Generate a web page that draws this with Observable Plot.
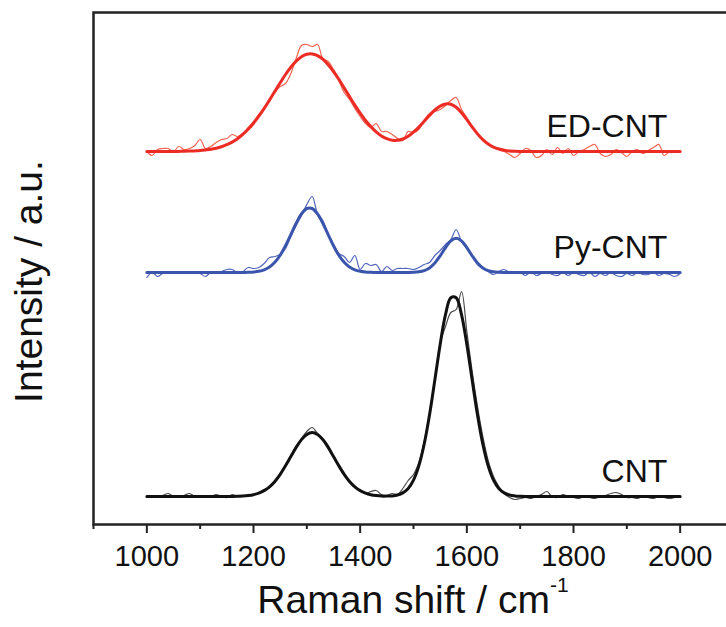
<!DOCTYPE html>
<html>
<head>
<meta charset="utf-8">
<script src="https://cdn.jsdelivr.net/npm/d3@7"></script>
<script src="https://cdn.jsdelivr.net/npm/@observablehq/plot@0.6"></script>
<style>
  html, body { margin: 0; padding: 0; background: white; }
  #chart { width: 726px; height: 627px; overflow: hidden; }
</style>
</head>
<body>
<div id="chart"></div>
<script>
// Raman shift sampling (cm^-1)
const shift = [
  1000,1010,1020,1030,1040,1050,1060,1070,1080,1090,
  1100,1110,1120,1130,1140,1150,1160,1170,1180,1190,
  1200,1210,1220,1230,1240,1250,1260,1270,1280,1290,
  1300,1310,1320,1330,1340,1350,1360,1370,1380,1390,
  1400,1410,1420,1430,1440,1450,1460,1470,1480,1490,
  1500,1510,1520,1530,1540,1550,1560,1570,1580,1590,
  1600,1610,1620,1630,1640,1650,1660,1670,1680,1690,
  1700,1710,1720,1730,1740,1750,1760,1770,1780,1790,
  1800,1810,1820,1830,1840,1850,1860,1870,1880,1890,
  1900,1910,1920,1930,1940,1950,1960,1970,1980,1990,
  2000
];

// Intensities (a.u.) above each spectrum's own baseline
const cntRaw = [
  0,-1,0,1,3,0,-1,1,3,0,
  -1,0,0,2,0,-1,2,0,0,1,
  2,4,7,9,14,21,31,41,50,58,
  65,69,63,58,51,40,30,22,15,10,
  6,3,5,6,2,1,3,2,8,16,
  22,34,55,83,117,153,170,184,187,205,
  165,125,90,60,36,20,10,3,-1,-3,
  -2,-1,-2,0,2,5,0,-1,2,0,
  -1,-2,0,-1,-2,0,1,3,4,2,
  -1,-1,-2,0,-1,-2,0,-1,-2,-1,
  0
];
const cntFit = [
  0,0,0,0,0,0,0,0,0,0,
  0,0,0,0,0,0,0.1,0.2,0.4,0.9,
  1.8,3.4,5.9,9.7,15.1,22.2,30.7,40.0,49.1,56.9,
  62.1,64,62.1,56.9,49.1,40.0,30.7,22.2,15.1,9.7,
  5.9,3.4,1.8,0.9,0.4,0.4,0.6,1.5,3.6,8.0,
  16.4,30.6,52.2,81.5,116.4,152.1,181.9,198.8,198.8,181.9,
  152.1,116.4,81.5,52.2,30.6,16.4,8.0,3.6,1.5,0.6,
  0.2,0,0,0,0,0,0,0,0,0,
  0,0,0,0,0,0,0,0,0,0,
  0,0,0,0,0,0,0,0,0,0,
  0
];
const pyRaw = [
  -5,0,-4,-1,-1,0,1,-1,0,1,
  -1,-4,0,-1,1,3,3,0,1,5,
  4,5,9,15,16,18,24,36,47,57,
  68,76,59,52,37,28,19,16,10,17,
  3,9,7,8,1,6,2,4,4,4,
  3,5,8,10,17,22,28,33,43,31,
  24,16,8,4,1,-2,1,3,0,-1,
  0,-3,1,-3,-1,1,-2,-3,0,-3,
  0,-2,-3,0,-4,-1,-3,0,-3,-4,
  -1,-3,0,-2,-2,0,-3,-1,-2,-4,
  -1
];
const pyFit = [
  0,0,0,0,0,0,0,0,0,0,
  0,0,0,0,0,0,0,0,0,0.2,
  0.5,1.2,2.7,5.5,10.2,17.2,26.7,37.9,49.2,58.6,
  64.0,64.0,58.6,49.2,37.9,26.7,17.2,10.2,5.5,2.7,
  1.2,0.5,0.2,0,0,0,0,0,0,0,
  0.2,0.7,1.9,4.6,9.5,16.7,24.9,31.7,34.3,31.7,
  24.9,16.7,9.5,4.6,1.9,0.7,0.2,0,0,0,
  0,0,0,0,0,0,0,0,0,0,
  0,0,0,0,0,0,0,0,0,0,
  0,0,0,0,0,0,0,0,0,0,
  0
];
const edRaw = [
  0,-4,2,3,3,0,5,2,3,6,
  12,3,5,9,12,13,17,15,18,24,
  30,37,43,50,59,65,68,78,93,106,
  107,105,107,93,90,82,71,59,52,43,
  35,28,24,28,20,20,17,13,11,20,
  19,22,31,38,40,42,46,51,54,42,
  34,25,17,11,7,4,2,0,-3,-6,
  -2,3,1,-6,-4,2,-3,4,-2,3,
  -4,0,2,5,7,-2,-5,-3,2,-1,
  -5,0,2,-2,1,4,7,-4,0,1,
  0
];
const edFit = [
  0,0,0,0,0,0,0.1,0.2,0.4,0.6,
  0.9,1.5,2.2,3.3,4.8,6.8,9.4,12.8,17.1,22.2,
  28.3,35.3,43.1,51.5,60.1,68.7,77.0,84.2,90.3,94.7,
  97.2,97.6,95.9,92.3,86.8,80.0,72.1,63.6,54.9,46.4,
  38.4,31.0,24.9,19.6,15.6,12.8,11.3,11.2,12.5,15.2,
  19.3,24.4,30.3,36.1,41.5,45.4,47.5,47.3,44.3,38.8,
  31.9,24.5,17.6,11.9,7.5,4.4,2.5,1.3,0.6,0.3,
  0.1,0,0,0,0,0,0,0,0,0,
  0,0,0,0,0,0,0,0,0,0,
  0,0,0,0,0,0,0,0,0,0,
  0
];

const seriesNames = ["CNT", "Py-CNT", "ED-CNT"];
const seriesOffsets = [0, 224, 345];          // vertical stacking offsets (a.u.)
const rawSeries = [cntRaw, pyRaw, edRaw];
const fitSeries = [cntFit, pyFit, edFit];
const majorTicks = [1000, 1200, 1400, 1600, 1800, 2000];
const minorTicks = [900, 1100, 1300, 1500, 1700, 1900];

const fitColors = ["#111111", "#3b55ad", "#ec2b25"];
const rawColors = ["#4a4a4a", "#5266bb", "#f26550"];

function rowsFor(values, i) {
  return shift.map((x, j) => ({x, y: values[j] + seriesOffsets[i], series: seriesNames[i]}));
}

const marks = [Plot.frame({stroke: "#222", strokeWidth: 2.5})];
seriesNames.forEach((s, i) => {
  marks.push(Plot.line(rowsFor(rawSeries[i], i), {
    x: "x", y: "y", stroke: rawColors[i], strokeWidth: 1.2, curve: "catmull-rom", strokeLinejoin: "round"
  }));
});
seriesNames.forEach((s, i) => {
  marks.push(Plot.line(rowsFor(fitSeries[i], i), {
    x: "x", y: "y", stroke: fitColors[i], strokeWidth: 3, curve: "catmull-rom", strokeLinejoin: "round"
  }));
});
const labelRows = seriesNames.map((s, i) => ({name: s, x: 1976, y: seriesOffsets[i] + 15}));
marks.push(Plot.text(labelRows, {
  x: "x", y: "y", text: "name", textAnchor: "end", lineAnchor: "bottom",
  fontSize: 32, fill: "#111"
}));
// major ticks (tick marks only) + their labels as a text mark in the bottom margin
marks.push(Plot.axisX({
  ticks: majorTicks, tickSize: 9, strokeWidth: 2, stroke: "#222", label: null, tickFormat: () => ""
}));
marks.push(Plot.text(majorTicks, {
  x: d => d, text: d => String(d), frameAnchor: "bottom", lineAnchor: "top",
  dy: 21, fontSize: 29, fill: "#111"
}));
marks.push(Plot.axisX({
  ticks: minorTicks, tickSize: 5, strokeWidth: 2, stroke: "#222", label: null, tickFormat: () => ""
}));

const chart = Plot.plot({
  width: 726,
  height: 627,
  marginLeft: 93,
  marginRight: -7,
  marginTop: 12,
  marginBottom: 103,
  x: {domain: [900, 2100], label: null},
  y: {domain: [-28, 484], axis: null},
  style: {fontFamily: "'Liberation Sans', Arial, sans-serif", background: "white", color: "#111"},
  marks
});

const svg = d3.select(chart);
svg.append("text")
  .attr("transform", "translate(42,281.5) rotate(-90)")
  .attr("text-anchor", "middle")
  .attr("font-size", 39)
  .attr("fill", "#111")
  .text("Intensity / a.u.");
const xt = svg.append("text")
  .attr("x", 413).attr("y", 613)
  .attr("text-anchor", "middle")
  .attr("font-size", 39)
  .attr("fill", "#111");
xt.append("tspan").text("Raman shift / cm");
xt.append("tspan").attr("dy", -21).attr("font-size", 21).text("-1");

document.getElementById("chart").appendChild(chart);
</script>
</body>
</html>
